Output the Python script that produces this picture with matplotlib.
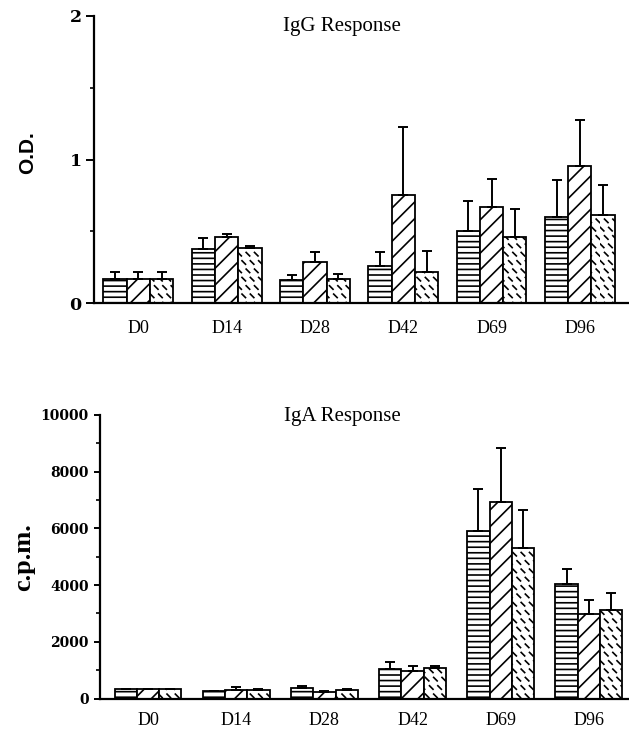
import numpy as np
import matplotlib
matplotlib.use("Agg")
import matplotlib.pyplot as plt
import matplotlib.hatch as mhatch
from matplotlib.path import Path
from matplotlib.ticker import MultipleLocator

# ---------------- data ----------------
days = ['D0', 'D14', 'D28', 'D42', 'D69', 'D96']

igg_s1 = [0.17, 0.376, 0.162, 0.26, 0.504, 0.599]
igg_s1_err = [0.05, 0.08, 0.035, 0.10, 0.21, 0.26]
igg_s2 = [0.17, 0.464, 0.286, 0.755, 0.671, 0.957]
igg_s2_err = [0.05, 0.02, 0.07, 0.47, 0.195, 0.32]
igg_s3 = [0.17, 0.387, 0.167, 0.22, 0.464, 0.615]
igg_s3_err = [0.05, 0.01, 0.037, 0.144, 0.195, 0.207]

iga_s1 = [320, 280, 363, 1032, 5901, 4035]
iga_s1_err = [20, 0, 70, 257, 1493, 542]
iga_s2 = [320, 306, 246, 972, 6947, 2968]
iga_s2_err = [0, 94, 34, 176, 1891, 504]
iga_s3 = [320, 306, 306, 1092, 5292, 3109]
iga_s3_err = [0, 34, 34, 56, 1373, 599]

igg_ticks = [0, 1, 2]
iga_ticks = [0, 2000, 4000, 6000, 8000, 10000]


# ---------------- custom dashed hatch (replaces '*') ----------------
class DashHatch(mhatch.HatchPatternBase):
    def __init__(self, hatch, density):
        self.n = int(hatch.count('*') * density)
        self.num_vertices = self.n * self.n * 2

    def set_vertices_and_codes(self, vertices, codes):
        n = self.n
        step = 1.0 / n
        d = step * 0.21
        k = 0
        for i in range(n):
            for j in range(n):
                cx = (j + 0.25 + 0.5 * (i % 2)) * step
                cy = (i + 0.5) * step
                vertices[k] = (cx - d, cy + d)
                vertices[k + 1] = (cx + d, cy - d)
                codes[k] = Path.MOVETO
                codes[k + 1] = Path.LINETO
                k += 2


mhatch._hatch_types = [t for t in mhatch._hatch_types if t is not mhatch.Stars] + [DashHatch]

plt.rcParams['hatch.linewidth'] = 1.2
plt.rcParams['hatch.color'] = 'black'

W, H = 629, 732
fig = plt.figure(figsize=(W / 100, H / 100), dpi=100)

serif = 'Liberation Serif'
tickfont = dict(family='DejaVu Serif', weight='bold')

hatches = ['---', '//', '**']


def draw_panel(ax, s_vals, s_errs, width, ticks, minor, ylim, tick_fs, xlab_pad):
    x = np.arange(len(days))
    offs = [-width, 0, width]
    for vals, errs, off, h in zip(s_vals, s_errs, offs, hatches):
        ax.bar(x + off, vals, width=width, facecolor='white', edgecolor='black',
               linewidth=1.3, hatch=h, zorder=2)
        ax.errorbar(x + off, vals, yerr=[np.zeros(len(vals)), errs], fmt='none',
                    ecolor='black', elinewidth=1.4, capsize=3.6, capthick=1.4, zorder=3)
    ax.set_ylim(*ylim)
    ax.set_yticks(ticks)
    ax.set_yticklabels([str(t) for t in ticks], fontsize=tick_fs, **tickfont)
    ax.yaxis.set_minor_locator(MultipleLocator(minor))
    ax.set_xticks(x)
    ax.set_xticklabels(days, family=serif, fontsize=13)
    ax.tick_params(axis='x', length=0, pad=xlab_pad)
    ax.spines['top'].set_visible(False)
    ax.spines['right'].set_visible(False)
    for s in ('left', 'bottom'):
        ax.spines[s].set_linewidth(1.6)
    ax.set_facecolor('none')


# top panel (IgG)
ax1 = fig.add_axes([94 / W, 1 - 303.3 / H, (W - 94) / W, (303.3 - 16) / H])
draw_panel(ax1, [igg_s1, igg_s2, igg_s3], [igg_s1_err, igg_s2_err, igg_s3_err],
           0.264, igg_ticks, 0.5, (0, 2), 12.5, 12)
ax1.set_xlim(-0.502, 5.557)
ax1.tick_params(axis='y', which='major', length=6, width=1.4, pad=3)
ax1.tick_params(axis='y', which='minor', length=3, width=1.2)

# bottom panel (IgA)
ax2 = fig.add_axes([100 / W, 1 - 698.5 / H, (W - 100) / W, (698.5 - 415) / H])
draw_panel(ax2, [iga_s1, iga_s2, iga_s3], [iga_s1_err, iga_s2_err, iga_s3_err],
           0.253, iga_ticks, 1000, (0, 10000), 10, 10)
ax2.set_xlim(-0.544, 5.454)
ax2.tick_params(axis='y', which='major', length=4, width=1.4, pad=4)
ax2.tick_params(axis='y', which='minor', length=3, width=1.2)

# titles
fig.text(342 / W, 1 - 27 / H, 'IgG Response', family=serif, fontsize=15,
         ha='center', va='center')
fig.text(342 / W, 1 - 417 / H, 'IgA Response', family=serif, fontsize=15,
         ha='center', va='center')

# y labels
fig.text(28 / W, 1 - 153 / H, 'O.D.', family='Liberation Sans', weight='bold',
         fontsize=15, rotation=90, ha='center', va='center')
fig.text(24 / W, 1 - 557 / H, 'c.p.m.', family=serif, weight='bold',
         fontsize=19, rotation=90, ha='center', va='center')

fig.savefig('out.png', dpi=100)
